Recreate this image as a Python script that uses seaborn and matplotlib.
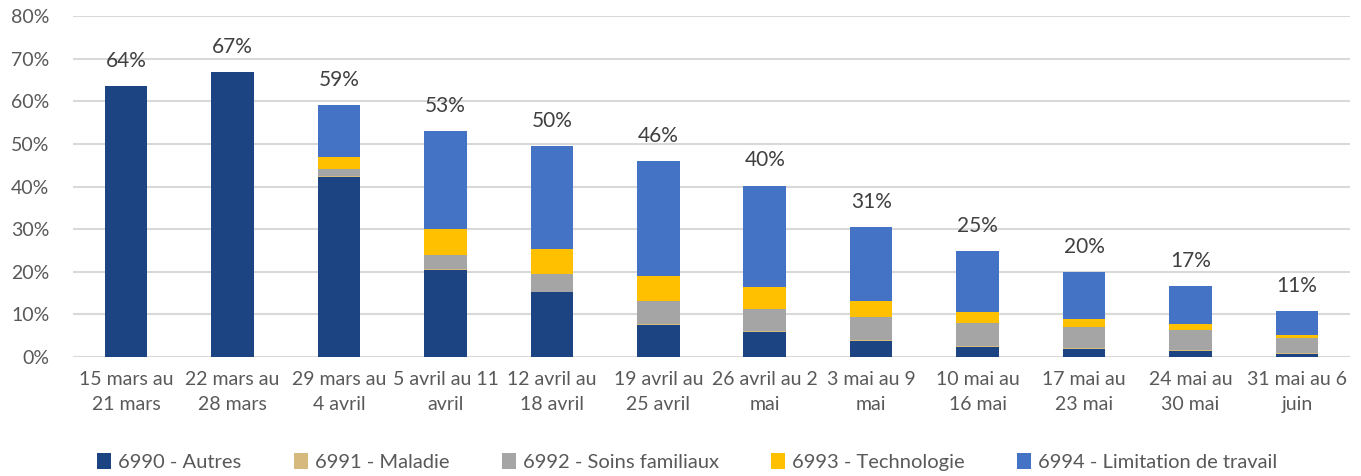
import matplotlib
matplotlib.use("Agg")
import matplotlib.pyplot as plt
import seaborn as sns
import numpy as np
import pandas as pd
from matplotlib.patches import Patch
from matplotlib.ticker import FuncFormatter

categories = ["15 mars au\n21 mars", "22 mars au\n28 mars", "29 mars au\n4 avril",
              "5 avril au 11\navril", "12 avril au\n18 avril", "19 avril au\n25 avril",
              "26 avril au 2\nmai", "3 mai au 9\nmai", "10 mai au\n16 mai",
              "17 mai au\n23 mai", "24 mai au\n30 mai", "31 mai au 6\njuin"]

autres      = [63.5, 66.9, 42.3, 20.5, 15.2, 7.6, 5.9, 3.7, 2.3, 1.8, 1.4, 0.8]
maladie     = [0.0, 0.0, 0.1, 0.1, 0.1, 0.1, 0.2, 0.2, 0.2, 0.2, 0.2, 0.2]
soins       = [0.0, 0.0, 1.7, 3.3, 4.3, 5.5, 5.2, 5.5, 5.4, 5.1, 4.8, 3.4]
technologie = [0.0, 0.0, 2.9, 6.1, 5.8, 5.9, 5.2, 3.7, 2.6, 1.8, 1.4, 0.8]
limitation  = [0.0, 0.0, 12.2, 23.0, 24.1, 26.8, 23.7, 17.4, 14.4, 11.0, 8.8, 5.6]
total_labels = ["64%", "67%", "59%", "53%", "50%", "46%", "40%", "31%", "25%", "20%", "17%", "11%"]

series_names = ["6990 - Autres", "6991 - Maladie", "6992 - Soins familiaux",
                "6993 - Technologie", "6994 - Limitation de travail"]
series_values = [autres, maladie, soins, technologie, limitation]
colors = ["#1D4482", "#D6B97C", "#A5A5A5", "#FFC000", "#4472C4"]

sns.set_theme(style="white")
plt.rcParams["font.family"] = ["Lato", "DejaVu Sans"]
text_color = "#595959"

fig = plt.figure(figsize=(13.61, 4.76), dpi=100)
ax = fig.add_axes([0.0536, 0.25, 0.9384, 0.716])

df = pd.DataFrame({"cat": categories})
cum = np.cumsum(np.array(series_values), axis=0)

# draw from top (full stack) down so lower series overlay
for i in range(len(series_names) - 1, -1, -1):
    df["v"] = cum[i]
    sns.barplot(data=df, x="cat", y="v", color=colors[i], width=0.4,
                saturation=1, ax=ax, linewidth=0, zorder=3)

ax.set_ylim(0, 80)
ax.set_xlim(-0.5, len(categories) - 0.5)
ax.set_yticks(np.arange(0, 81, 10))
ax.yaxis.set_major_formatter(FuncFormatter(lambda v, p: f"{int(v)}%"))
ax.grid(axis="y", color="#D9D9D9", linewidth=1.5, zorder=0)
ax.set_axisbelow(True)
for s in ax.spines.values():
    s.set_visible(False)
ax.set_xlabel("")
ax.set_ylabel("")
ax.tick_params(axis="both", length=0, colors=text_color, labelsize=14)
ax.tick_params(axis="x", pad=10)
ax.tick_params(axis="y", pad=17)
for lbl in ax.get_xticklabels():
    lbl.set_linespacing(1.55)
for lbl in ax.get_yticklabels():
    lbl.set_horizontalalignment("right")

totals = cum[-1]
for i, (t, lab) in enumerate(zip(totals, total_labels)):
    ax.annotate(lab, (i, t), xytext=(0, 11), textcoords="offset points",
                ha="center", va="bottom", fontsize=15, color="#404040")

handles = [Patch(facecolor=c, edgecolor="none") for c in colors]
fig.legend(handles, series_names, loc="center", bbox_to_anchor=(0.505, 0.03),
           ncol=5, frameon=False, fontsize=14.5, handlelength=0.7, handleheight=0.9,
           handletextpad=0.35, columnspacing=2.6, labelcolor=text_color)

fig.savefig("out.png", dpi=100)
